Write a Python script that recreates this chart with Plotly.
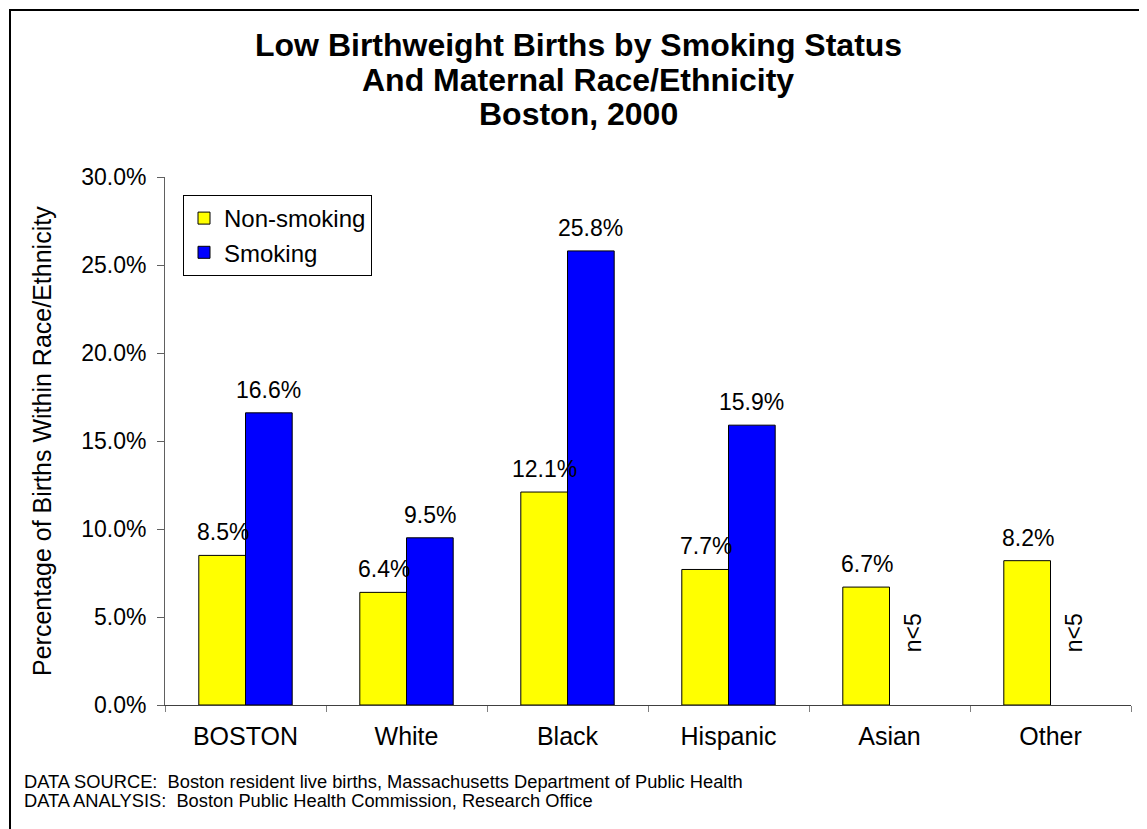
import plotly.graph_objects as go

CATEGORIES = ["BOSTON", "White", "Black", "Hispanic", "Asian", "Other"]
NON_SMOKING = [8.5, 6.4, 12.1, 7.7, 6.7, 8.2]
SMOKING = [16.6, 9.5, 25.8, 15.9, None, None]
SUPPRESSED = ["Asian", "Other"]  # smoking counts too small to report
SUPPRESSED_LABEL_Y = 4.1
Y_TICKS = [0, 5, 10, 15, 20, 25, 30]
TITLE_LINES = ["Low Birthweight Births by Smoking Status",
               "And Maternal Race/Ethnicity",
               "Boston, 2000"]
FOOTER_LINES = ["DATA SOURCE:  Boston resident live births, Massachusetts Department of Public Health",
                "DATA ANALYSIS:  Boston Public Health Commission, Research Office"]

FONT = "Liberation Sans, Arial, sans-serif"
# the page body has an 8px margin, so the figure is drawn 8px in
PAGE_W, PAGE_H, OFF = 1147, 829, 8
PLOT_L, PLOT_R, PLOT_T, PLOT_B = 165, 1131, 177, 705   # page pixels
W, H = PAGE_W - OFF, PAGE_H - OFF
BAR_SHIFT = 23  # px from category centre to each bar's centre


def px_x(x):
    return (x - PLOT_L) / (PLOT_R - PLOT_L)


def px_y(y):
    return (PLOT_B - y) / (PLOT_B - PLOT_T)


fig = go.Figure()
fig.add_trace(go.Bar(
    x=CATEGORIES, y=NON_SMOKING, name="Non-smoking",
    marker=dict(color="#FFFF00", line=dict(color="black", width=1)),
))
fig.add_trace(go.Bar(
    x=CATEGORIES, y=SMOKING, name="Smoking",
    marker=dict(color="#0000FF", line=dict(color="black", width=1)),
))

# value labels over the bars
for vals, shift in ((NON_SMOKING, -BAR_SHIFT), (SMOKING, BAR_SHIFT)):
    for cat, v in zip(CATEGORIES, vals):
        if v is None:
            continue
        fig.add_annotation(x=cat, y=v, xref="x", yref="y", text=f"{v:.1f}%",
                           showarrow=False, xshift=shift, yshift=8,
                           yanchor="bottom", font=dict(size=23, color="black"))

for cat in SUPPRESSED:
    fig.add_annotation(x=cat, y=SUPPRESSED_LABEL_Y, xref="x", yref="y",
                       text="n<5", textangle=-90, showarrow=False,
                       xshift=BAR_SHIFT, font=dict(size=23, color="black"))

for line, yc in zip(TITLE_LINES, (45, 80, 114)):
    fig.add_annotation(x=px_x(578), y=px_y(yc), xref="paper", yref="paper",
                       text=f"<b>{line}</b>", showarrow=False,
                       xanchor="center", yanchor="middle",
                       font=dict(size=32, color="black"))

# y-axis title placed by hand so it sits where the original does
fig.add_annotation(x=px_x(42), y=0.5, xref="paper", yref="paper",
                   text="Percentage of Births Within Race/Ethnicity",
                   textangle=-90, showarrow=False,
                   xanchor="center", yanchor="middle",
                   font=dict(size=25, color="black"))

for line, yc in zip(FOOTER_LINES, (781, 800)):
    fig.add_annotation(x=px_x(22), y=px_y(yc), xref="paper", yref="paper",
                       xanchor="left", yanchor="middle", showarrow=False,
                       text=line, font=dict(size=18.3, color="black"))

# frame around the whole figure (right/bottom edges run off the page)
fig.add_shape(type="rect", xref="paper", yref="paper",
              x0=px_x(10), x1=px_x(PAGE_W + 30), y0=px_y(PAGE_H + 30), y1=px_y(10),
              line=dict(color="black", width=2), layer="above")

fig.update_layout(
    width=W, height=H,
    margin=dict(l=PLOT_L - OFF, r=OFF + W - PLOT_R, t=PLOT_T - OFF, b=OFF + H - PLOT_B),
    paper_bgcolor="white", plot_bgcolor="white",
    font=dict(family=FONT, color="black"),
    barmode="group", bargap=0.42, bargroupgap=0,
    legend=dict(
        x=px_x(183), y=px_y(195), xanchor="left", yanchor="top",
        bordercolor="black", borderwidth=1, bgcolor="white",
        font=dict(size=24), itemwidth=30, tracegroupgap=0,
    ),
    showlegend=True,
)

fig.update_xaxes(
    range=[-0.5, len(CATEGORIES) - 0.5],
    showline=True, linecolor="#404040", linewidth=1,
    ticks="outside", tickson="boundaries", ticklen=6, tickcolor="#808080",
    tickfont=dict(size=25), ticklabelstandoff=9, showgrid=False,
)
fig.update_yaxes(
    range=[0, 30], tickvals=Y_TICKS,
    ticktext=[f"{v:.1f}%" for v in Y_TICKS],
    showline=True, linecolor="#606060", linewidth=1,
    ticks="outside", ticklen=7, tickcolor="#606060",
    tickfont=dict(size=23), ticklabelstandoff=6, showgrid=False, zeroline=False,
)

fig.write_html("out.html")
